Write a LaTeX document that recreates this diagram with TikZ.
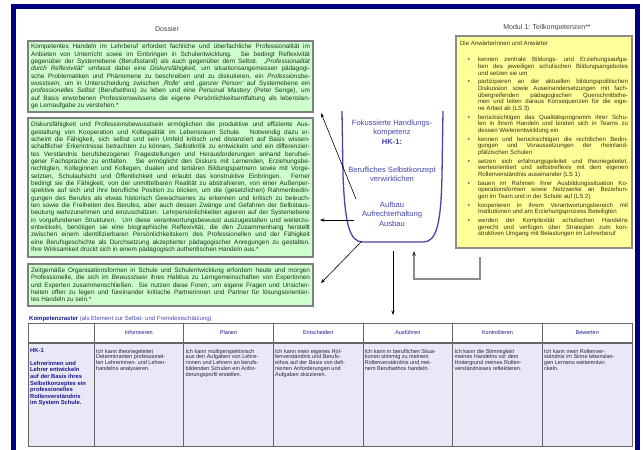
\documentclass[tikz,border=0pt]{standalone}
\usepackage{fontspec}
\setmainfont{Liberation Sans}
\usetikzlibrary{arrows.meta}

\definecolor{rahmen}{RGB}{0,0,128}
\definecolor{dossiergruen}{RGB}{204,255,204}
\definecolor{dossiertext}{RGB}{30,50,30}
\definecolor{modulgelb}{RGB}{255,255,153}
\definecolor{modultext}{RGB}{50,50,20}
\definecolor{kelchblau}{RGB}{70,70,170}
\definecolor{rasterblau}{RGB}{25,25,140}
\definecolor{rasterhell}{RGB}{70,70,175}
\definecolor{zellfarbe}{RGB}{232,232,246}
\definecolor{zelltext}{RGB}{35,35,60}

\newcommand{\textsatz}[2]{\fontsize{#1}{#2}\selectfont\tolerance=10000\pretolerance=10000\relax}

\newenvironment{anwliste}{\begin{list}{\textbullet}{%
  \setlength{\leftmargin}{18pt}\setlength{\labelsep}{8pt}%
  \setlength{\labelwidth}{10pt}\setlength{\itemsep}{1.6pt}%
  \setlength{\parsep}{0pt}\setlength{\topsep}{0pt}\setlength{\partopsep}{0pt}}}%
  {\end{list}}

\tikzset{
  titel/.style={font=\textsatz{7}{8.5}, text=black!75},
  dossierbox/.style={draw=black!50, line width=1.2pt, fill=dossiergruen,
    text=dossiertext, inner xsep=3pt, inner ysep=0pt, text width=279pt,
    align=justify, font=\textsatz{6.4}{7.35}},
  modulbox/.style={draw=black!45, line width=1.2pt, fill=modulgelb,
    text=modultext, inner xsep=4pt, inner ysep=0pt, text width=168pt,
    align=justify, font=\textsatz{6.1}{6.8}},
  kelchtext/.style={align=center, inner sep=0pt, text=kelchblau,
    font=\textsatz{7.6}{9.6}},
  kopf/.style={text=rasterblau, font=\textsatz{5.5}{6.5}},
  zelle/.style={anchor=north west, align=left, inner sep=0pt, text=zelltext,
    font=\textsatz{5.5}{5.8}},
  pfeil/.style={-{Stealth[length=4.5pt,width=3.2pt]}, line width=0.6pt},
  rueckpfeil/.style={-{Stealth[length=5pt,width=3.8pt,color=black!80]},
    draw=black!45, line width=1.5pt},
}

\begin{document}
\begin{tikzpicture}[x=1pt,y=-1pt]
\clip (0,0) rectangle (643,450);
\fill[white] (0,0) rectangle (643,450);
\draw[rahmen, line width=5pt] (13,6) rectangle (637,462);

% Dossier
\node[titel] (dossier) at (167,29) {Dossier};
\node[dossierbox, minimum height=71pt] (reflexiv) at (170.5,76.5) {Kompetentes Handeln im Lehrberuf erfordert fachliche und überfachliche Professionalität im\linebreak
Anbieten von Unterricht sowie im Einbringen in Schulentwicklung. Sie bedingt Reflexivität\linebreak
gegenüber der Systemebene (Berufsstand) als auch gegenüber dem Selbst. \emph{„Professionalität\linebreak
durch Reflexivität“} umfasst dabei eine \emph{Diskursfähigkeit}, um situationsangemessen pädagogi-\linebreak
sche Problematiken und Phänomene zu beschreiben und zu diskutieren, ein \emph{Professionsbe-\linebreak
wusstsein}, um in Unterscheidung zwischen \emph{‚Rolle‘} und \emph{‚ganzer Person‘} auf Systemebene ein\linebreak
\emph{professionelles Selbst} (Berufsethos) zu leben und eine \emph{Personal Mastery} (Peter Senge), um\linebreak
auf Basis erworbenen Professionswissens die eigene Persönlichkeitsentfaltung als lebenslan-\linebreak
ge Lernaufgabe zu verstehen.*};
\node[dossierbox, minimum height=139pt] (diskurs) at (170.5,187.5) {Diskursfähigkeit und Professionsbewusstsein ermöglichen die produktive und effiziente Aus-\linebreak
gestaltung von Kooperation und Kollegialität im Lebensraum Schule. Notwendig dazu er-\linebreak
scheint die Fähigkeit, sich selbst und sein Umfeld kritisch und distanziert auf Basis wissen-\linebreak
schaftlicher Erkenntnisse betrachten zu können, Selbstkritik zu entwickeln und ein differenzier-\linebreak
tes Verständnis berufsbezogener Fragestellungen und Herausforderungen anhand berufsei-\linebreak
gener Fachsprache zu entfalten. Sie ermöglicht den Diskurs mit Lernenden, Erziehungsbe-\linebreak
rechtigten, Kolleginnen und Kollegen, dualen und tertiären Bildungspartnern sowie mit Vorge-\linebreak
setzten, Schulaufsicht und Öffentlichkeit und erlaubt das konstruktive Einbringen. Ferner\linebreak
bedingt sie die Fähigkeit, von der unmittelbaren Realität zu abstrahieren, von einer Außenper-\linebreak
spektive auf sich und ihre berufliche Position zu blicken, um die (gesetzlichen) Rahmenbedin-\linebreak
gungen des Berufes als etwas historisch Gewachsenes zu erkennen und kritisch zu beleuch-\linebreak
ten sowie die Freiheiten des Berufes, aber auch dessen Zwänge und Gefahren der Selbstaus-\linebreak
beutung wahrzunehmen und einzuschätzen. Lehrpersönlichkeiten agieren auf der Systemebene\linebreak
in vorgefundenen Strukturen. Um diese verantwortungsbewusst auszugestalten und weiterzu-\linebreak
entwickeln, benötigen sie eine biographische Reflexivität, die den Zusammenhang herstellt\linebreak
zwischen einem identifizierbaren Persönlichkeitskern des Professionellen und der Fähigkeit\linebreak
eine Berufsgeschichte als Durchsetzung akzeptierter pädagogischer Anregungen zu gestalten.\linebreak
Ihre Wirksamkeit drückt sich in einem pädagogisch authentischen Handeln aus.*};
\node[dossierbox, minimum height=42pt] (lerngemeinschaft) at (170.5,285) {Zeitgemäße Organisationsformen in Schule und Schulentwicklung erfordern heute und morgen\linebreak
Professionelle, die sich im \emph{Bewusstsein} ihres Habitus zu Lerngemeinschaften von Expertinnen\linebreak
und Experten zusammenschließen. Sie nutzen diese Foren, um eigene Fragen und Unsicher-\linebreak
heiten offen zu legen und füreinander kritische Partnerinnen und Partner für lösungsorientier-\linebreak
tes Handeln zu sein.*};

% Modul 1
\node[titel] (modultitel) at (547,28) {Modul 1: Teilkompetenzen**};
\node[modulbox, minimum height=212pt] (modul) at (544,142) {Die Anwärterinnen und Anwärter\par\vspace{9.5pt}
\begin{anwliste}
\item kennen zentrale Bildungs- und Erziehungsaufga-\linebreak ben des jeweiligen schulischen Bildungsangebotes\linebreak und setzen sie um
\item partizipieren an der aktuellen bildungspolitischen\linebreak Diskussion sowie Auseinandersetzungen mit fach-\linebreak übergreifenden pädagogischen Querschnittsthe-\linebreak men und leiten daraus Konsequenzen für die eige-\linebreak ne Arbeit ab (LS 3)
\item berücksichtigen das Qualitätsprogramm ihrer Schu-\linebreak len in ihrem Handeln und binden sich in Teams zu\linebreak dessen Weiterentwicklung ein
\item kennen und berücksichtigen die rechtlichen Bedin-\linebreak gungen und Voraussetzungen der rheinland-\linebreak pfälzischen Schulen
\item setzen sich erfahrungsgeleitet und theoriegeleitet,\linebreak werteorientiert und selbstreflexiv mit dem eigenen\linebreak Rollenverständnis auseinander (LS 1)
\item bauen im Rahmen ihrer Ausbildungssituation Ko-\linebreak operationsformen sowie Netzwerke an Beziehun-\linebreak gen im Team und in der Schule auf (LS 2)
\item kooperieren in ihrem Verantwortungsbereich mit\linebreak Institutionen und am Erziehungsprozess Beteiligten
\item werden der Komplexität schulischen Handelns\linebreak gerecht und verfügen über Strategien zum kon-\linebreak struktiven Umgang mit Belastungen im Lehrerberuf
\end{anwliste}\par\vspace{6pt}};

% Kelch
\draw[kelchblau, line width=1.3pt] (342,111) -- (343,175)
  .. controls (345,226) and (350,241) .. (362,242) -- (424,242)
  .. controls (436,241) and (441,226) .. (442,175) -- (443,111);
\node[kelchtext, anchor=north] (fokus) at (392,119.5) {Fokussierte Handlungs-\\kompetenz\\\textbf{HK-1:}};
\node[kelchtext, anchor=north] (selbstkonzept) at (392,166.5) {Berufliches Selbstkonzept\\verwirklichen};
\node[kelchtext, anchor=north] (aufbau) at (392,201.5) {Aufbau\\Aufrechterhaltung\\Ausbau};

\coordinate (k1) at (356,199);
\coordinate (k2) at (354,220);
\coordinate (k3) at (362,241);
\coordinate (k4) at (393,251);
\coordinate (z1) at (321,113);
\coordinate (z2) at (320,220);
\coordinate (z3) at (321,283);
\coordinate (z4) at (393,315);
\draw[pfeil] (k1) -- (z1);
\draw[pfeil] (k2) -- (z2);
\draw[pfeil] (k3) -- (z3);
\draw[pfeil] (k4) -- (z4);

\coordinate (m1) at (480,257);
\coordinate (m2) at (414,251);
\draw[rueckpfeil] (m1) -- ++(0,22) -| (m2);

% Kompetenzraster
\node[anchor=west, inner sep=0pt, font=\textsatz{6}{7}] (raster) at (29,319)
  {\textcolor{rasterblau}{\textbf{Kompetenzraster}} \textcolor{rasterhell}{(als Element zur Selbst- und Fremdeinschätzung)}};
\fill[zellfarbe] (28,343) rectangle (632,446);
\draw[black!60, line width=0.8pt] (28,323) rectangle (632,446);
\draw[black!60, line width=1.2pt] (28,343) -- (632,343);
\foreach \x in {94,183.7,273.3,363,452.7,542.3}
  \draw[black!60, line width=0.8pt] (\x,323) -- (\x,446);

\node[kopf] (informieren) at (138.8,333) {Informieren};
\node[kopf] (planen) at (228.5,333) {Planen};
\node[kopf] (entscheiden) at (318.2,333) {Entscheiden};
\node[kopf] (ausfuehren) at (407.8,333) {Ausführen};
\node[kopf] (kontrollieren) at (497.5,333) {Kontrollieren};
\node[kopf] (bewerten) at (587.2,333) {Bewerten};

\node[zelle, text=rasterblau, font=\textsatz{5.8}{6.6}\bfseries] (hk) at (30,348)
  {HK-1\\[6.6pt]Lehrerinnen und\\Lehrer entwickeln\\auf der Basis ihres\\Selbstkonzeptes ein\\professionelles\\Rollenverständnis\\im System Schule.};
\node[zelle] (zInfo) at (96,349) {Ich kann theoriegeleitet\\Determinanten professionel-\\len Lehrerinnen- und Lehrer-\\handelns analysieren.};
\node[zelle] (zPlan) at (185.5,349) {Ich kann multiperspektivisch\\aus den Aufgaben von Lehre-\\rinnen und Lehrern an berufs-\\bildenden Schulen ein Anfor-\\derungsprofil erstellen.};
\node[zelle] (zEntsch) at (275,349) {Ich kann mein eigenes Rol-\\lenverständnis und Berufs-\\ethos auf der Basis von defi-\\nierten Anforderungen und\\Aufgaben skizzieren.};
\node[zelle] (zAusf) at (364.7,349) {Ich kann in beruflichen Situa-\\tionen stimmig zu meinem\\Rollenverständnis und mei-\\nem Berufsethos handeln.};
\node[zelle] (zKontr) at (454.4,349) {Ich kann die Stimmigkeit\\meines Handelns vor dem\\Hintergrund meines Rollen-\\verständnisses reflektieren.};
\node[zelle] (zBew) at (544,349) {Ich kann mein Rollenver-\\ständnis im Sinne lebenslan-\\gen Lernens weiterentwi-\\ckeln.};
\end{tikzpicture}
\end{document}
